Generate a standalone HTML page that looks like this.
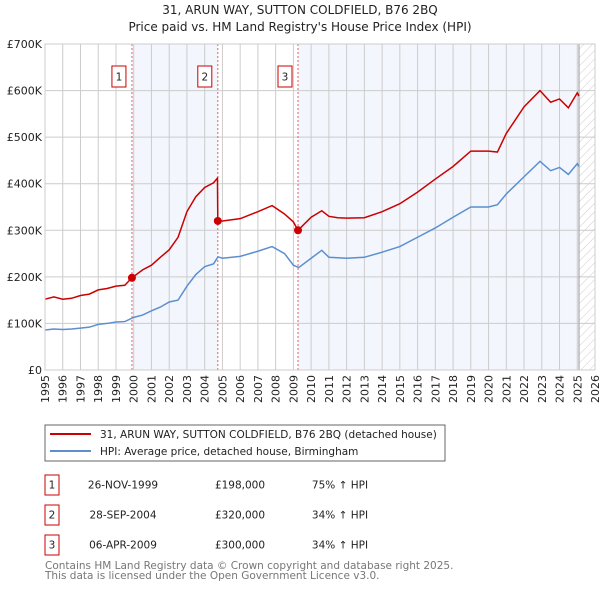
<!DOCTYPE html>
<html><head><meta charset="utf-8"><style>
body{margin:0;background:#fff;font-family:"DejaVu Sans","Liberation Sans",sans-serif;}
svg text{font-family:"DejaVu Sans","Liberation Sans",sans-serif;}
</style></head><body>
<svg id="chart" width="600" height="590" viewBox="0 0 600 590" xmlns="http://www.w3.org/2000/svg">
<defs><pattern id="hatch" width="6" height="6" patternUnits="userSpaceOnUse" patternTransform="rotate(45)"><line x1="0" y1="0" x2="0" y2="6" stroke="#ccc" stroke-width="1"/></pattern></defs>
<text x="300" y="14" text-anchor="middle" font-size="12" fill="#222">31, ARUN WAY, SUTTON COLDFIELD, B76 2BQ</text>
<text x="300" y="31" text-anchor="middle" font-size="12" fill="#222">Price paid vs. HM Land Registry's House Price Index (HPI)</text>
<g id="plot"></g>
<rect x="45" y="425" width="400" height="36" fill="#fff" stroke="#666"/>
<line x1="50" y1="434" x2="91" y2="434" stroke="#cc0000" stroke-width="2"/>
<text x="100" y="438" font-size="10.5" fill="#222">31, ARUN WAY, SUTTON COLDFIELD, B76 2BQ (detached house)</text>
<line x1="50" y1="451" x2="91" y2="451" stroke="#5b8fd0" stroke-width="2"/>
<text x="100" y="455" font-size="10.5" fill="#222">HPI: Average price, detached house, Birmingham</text>
<g id="table"></g>
<text x="45" y="569" font-size="10.5" fill="#777">Contains HM Land Registry data © Crown copyright and database right 2025.</text>
<text x="45" y="579" font-size="10.5" fill="#777">This data is licensed under the Open Government Licence v3.0.</text>
</svg>
<script>
const hpiYears=[1995,1995.5,1996,1996.5,1997,1997.5,1998,1998.5,1999,1999.5,2000,2000.5,2001,2001.5,2002,2002.5,2003,2003.5,2004,2004.5,2004.75,2005,2006,2007,2007.8,2008.5,2009,2009.3,2010,2010.6,2011,2011.5,2012,2013,2014,2015,2016,2017,2018,2019,2020,2020.5,2021,2022,2022.9,2023.5,2024,2024.5,2025,2025.1];
const hpiValues=[86,88,87,88,90,92,98,100,103,104,113,118,127,135,146,150,180,205,222,228,243,240,244,255,265,250,225,220,240,257,242,241,240,242,253,265,285,305,328,350,350,355,378,415,448,428,435,420,443,437];
const propYears=[1995,1995.5,1996,1996.5,1997,1997.5,1998,1998.5,1999,1999.5,1999.9,2000.5,2001,2001.5,2002,2002.5,2003,2003.5,2004,2004.5,2004.72,2004.74,2005,2006,2007,2007.8,2008.5,2009,2009.26,2010,2010.6,2011,2011.5,2012,2013,2014,2015,2016,2017,2018,2019,2020,2020.5,2021,2022,2022.9,2023.5,2024,2024.5,2025,2025.1];
const propValues=[152,157,152,154,160,163,172,175,180,182,198,215,225,242,258,285,340,372,392,402,412,320,320,325,340,353,335,318,300,328,342,330,327,326,327,340,357,382,410,437,470,470,468,508,565,600,575,582,563,595,588];
const saleYears=[1999.9,2004.74,2009.26];
const saleValues=[198,320,300];
const saleLabels=["1","2","3"];
const saleDates=["26-NOV-1999","28-SEP-2004","06-APR-2009"];
const salePrices=["£198,000","£320,000","£300,000"];
const saleHpi=["75% ↑ HPI","34% ↑ HPI","34% ↑ HPI"];
const yTicks=[0,100,200,300,400,500,600,700];
const yTickLabels=["£0","£100K","£200K","£300K","£400K","£500K","£600K","£700K"];
const xTicks=[1995,1996,1997,1998,1999,2000,2001,2002,2003,2004,2005,2006,2007,2008,2009,2010,2011,2012,2013,2014,2015,2016,2017,2018,2019,2020,2021,2022,2023,2024,2025,2026];

const NS="http://www.w3.org/2000/svg";
const X0=45,X1=595,Y0=370,Y1=44;
const xs=y=>X0+(y-1995)/(2026-1995)*(X1-X0);
const ys=v=>Y0-v/700*(Y0-Y1);
const plot=document.getElementById('plot');
function mk(tag,attrs,parent){const e=document.createElementNS(NS,tag);for(const k in attrs)e.setAttribute(k,attrs[k]);(parent||plot).appendChild(e);return e;}
let e;
e=mk('rect',{x:X0,y:Y1,width:X1-X0,height:Y0-Y1,fill:'#fff'});


e=mk('rect',{x:xs(saleYears[0]),y:Y1,width:xs(saleYears[1])-xs(saleYears[0]),height:Y0-Y1,fill:'#f3f6fd'});


e=mk('rect',{x:xs(saleYears[2]),y:Y1,width:xs(2025.1)-xs(saleYears[2]),height:Y0-Y1,fill:'#f3f6fd'});


e=mk('rect',{x:xs(2025.1),y:Y1,width:X1-xs(2025.1),height:Y0-Y1,fill:'url(#hatch)'});


xTicks.forEach(t=>{
 e=mk('line',{x1:xs(t),x2:xs(t),y1:Y1,y2:Y0,stroke:'#ccc','stroke-width':1});
 
 
 e=mk('text',{x:0,y:0,'font-size':11,fill:'#222','text-anchor':'end',transform:`translate(${xs(t)+4},${Y0+5}) rotate(-90)`});
 e.textContent=t;
 
 
});
yTicks.forEach((t,i)=>{
 e=mk('line',{x1:X0,x2:X1,y1:ys(t),y2:ys(t),stroke:'#ccc','stroke-width':1});
 
 
 e=mk('text',{x:X0-3,y:ys(t)+4,'font-size':11,fill:'#222','text-anchor':'end'});
 e.textContent=yTickLabels[i];
 
 
});
e=mk('line',{x1:xs(2025.1),x2:xs(2025.1),y1:Y1,y2:Y0,stroke:'#999','stroke-width':1});


saleYears.forEach((s,i)=>{
 e=mk('line',{x1:xs(s),x2:xs(s),y1:Y1,y2:Y0,stroke:'#e06060','stroke-width':1,'stroke-dasharray':'2,2'});
 
 
});
e=mk('polyline',{points:hpiYears.map((y,i)=>xs(y)+','+ys(hpiValues[i])).join(' '),fill:'none',stroke:'#5b8fd0','stroke-width':1.5});


e=mk('polyline',{points:propYears.map((y,i)=>xs(y)+','+ys(propValues[i])).join(' '),fill:'none',stroke:'#cc0000','stroke-width':1.5});


saleYears.forEach((s,i)=>{
 e=mk('circle',{cx:xs(s),cy:ys(saleValues[i]),r:4,fill:'#cc0000'});
 
 
 e=mk('rect',{x:xs(s)-20,y:66,width:14,height:21,fill:'#fff',stroke:'#cc0000'});
 
 
 e=mk('text',{x:xs(s)-13,y:80.5,'font-size':10.5,fill:'#222','text-anchor':'middle'});
 e.textContent=saleLabels[i];
 
 
});
e=mk('rect',{x:X0,y:Y1,width:X1-X0,height:Y0-Y1,fill:'none',stroke:'#ccc'});


const tbl=document.getElementById('table');
saleLabels.forEach((l,i)=>{
 const cy=483+i*30;
 e=mk('rect',{x:45,y:cy-8,width:14,height:20,fill:'#fff',stroke:'#cc0000'},tbl);
 
 
 e=mk('text',{x:52,y:cy+5.5,'font-size':10.5,fill:'#222','text-anchor':'middle'},tbl);
 e.textContent=l;
 
 
 e=mk('text',{x:123,y:cy+5.5,'font-size':10.5,fill:'#222','text-anchor':'middle'},tbl);
 e.textContent=saleDates[i];
 
 
 e=mk('text',{x:240,y:cy+5.5,'font-size':10.5,fill:'#222','text-anchor':'middle'},tbl);
 e.textContent=salePrices[i];
 
 
 e=mk('text',{x:340,y:cy+5.5,'font-size':10.5,fill:'#222','text-anchor':'middle'},tbl);
 e.textContent=saleHpi[i];
 
 
});
</script>
</body></html>
